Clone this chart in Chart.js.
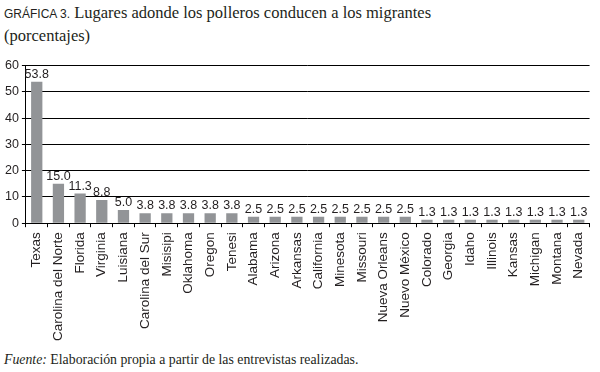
<!DOCTYPE html>
<html lang="es">
<head>
    <meta charset="utf-8">
    <title>Gráfica 3</title>
    <script src="https://cdn.jsdelivr.net/npm/chart.js"></script>
    <style>
        body {
            margin: 0;
            background: #ffffff;
            width: 600px;
            height: 372px;
            overflow: hidden;
            position: relative;
        }
        .titulo {
            position: absolute;
            left: 4px;
            top: 2px;
            font-family: 'Liberation Serif', serif;
            font-size: 16.5px;
            line-height: 21px;
            color: #231f20;
        }
        .titulo .num {
            font-family: 'Liberation Sans', sans-serif;
            font-size: 12px;
        }
        .fuente {
            position: absolute;
            left: 4px;
            top: 352px;
            font-family: 'Liberation Serif', serif;
            font-size: 13.8px;
            color: #231f20;
        }
        #wrap {
            position: absolute;
            left: 0;
            top: 55px;
            width: 600px;
            height: 291px;
        }
    </style>
</head>
<body>
    <div class="titulo"><span class="num">GRÁFICA 3.</span> Lugares adonde los polleros conducen a los migrantes<br>(porcentajes)</div>
    <div id="wrap"><canvas id="grafica"></canvas></div>
    <div class="fuente"><i>Fuente:</i> Elaboración propia a partir de las entrevistas realizadas.</div>

    <script>
        const lugares = ['Texas', 'Carolina del Norte', 'Florida', 'Virginia', 'Luisiana', 'Carolina del Sur',
            'Misisipi', 'Oklahoma', 'Oregon', 'Tenesi', 'Alabama', 'Arizona', 'Arkansas', 'California',
            'Minesota', 'Missouri', 'Nueva Orleans', 'Nuevo México', 'Colorado', 'Georgia', 'Idaho',
            'Illinois', 'Kansas', 'Michigan', 'Montana', 'Nevada'];
        const porcentajes = [53.8, 15.0, 11.3, 8.8, 5.0, 3.8, 3.8, 3.8, 3.8, 3.8, 2.5, 2.5, 2.5, 2.5,
            2.5, 2.5, 2.5, 2.5, 1.3, 1.3, 1.3, 1.3, 1.3, 1.3, 1.3, 1.3];
        const ticksY = [0, 10, 20, 30, 40, 50, 60];

        // etiquetas de valor encima de cada barra
        const etiquetas = {
            id: 'etiquetas',
            afterDatasetsDraw(chart) {
                const c = chart.ctx;
                const meta = chart.getDatasetMeta(0);
                c.save();
                c.font = '12.5px "Liberation Sans", sans-serif';
                c.fillStyle = '#231f20';
                c.textAlign = 'center';
                c.textBaseline = 'bottom';
                meta.data.forEach((bar, i) => {
                    c.fillText(porcentajes[i].toFixed(1), bar.x, bar.y - 1);
                });
                c.restore();
            }
        };

        new Chart(document.getElementById('grafica'), {
            type: 'bar',
            data: {
                labels: lugares,
                datasets: [{
                    data: porcentajes,
                    backgroundColor: '#929497',
                    barPercentage: 0.52,
                    categoryPercentage: 1.0
                }]
            },
            options: {
                responsive: true,
                maintainAspectRatio: false,
                animation: false,
                layout: { padding: { top: 9, right: 4, left: 2, bottom: 0 } },
                plugins: {
                    legend: { display: false },
                    tooltip: { enabled: false }
                },
                scales: {
                    y: {
                        min: 0,
                        max: 60,
                        afterBuildTicks: (s) => { s.ticks = ticksY.map(v => ({ value: v })); },
                        border: { color: '#000000', width: 1 },
                        grid: { color: '#000000', lineWidth: 1, tickLength: 4, tickColor: '#000000' },
                        ticks: {
                            color: '#231f20',
                            padding: 3,
                            font: { size: 12.5, family: 'Liberation Sans' }
                        }
                    },
                    x: {
                        border: { color: '#000000', width: 1 },
                        grid: { drawOnChartArea: false, tickLength: 4, tickColor: '#000000', offset: true },
                        ticks: {
                            color: '#231f20',
                            minRotation: 90,
                            maxRotation: 90,
                            autoSkip: false,
                            padding: 5,
                            font: { size: 13.5, family: 'Liberation Sans' }
                        }
                    }
                }
            },
            plugins: [etiquetas]
        });
    </script>
</body>
</html>
